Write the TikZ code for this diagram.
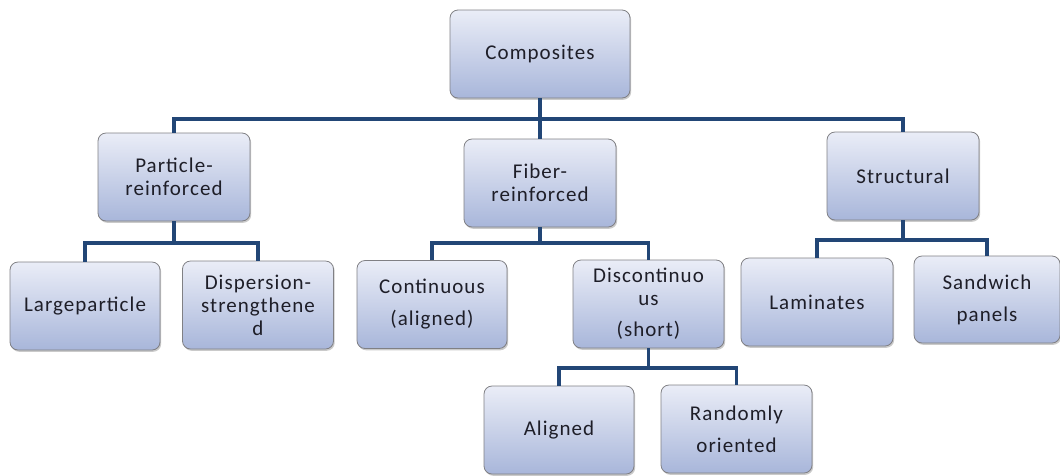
\documentclass[tikz,border=0pt]{standalone}
\usepackage{fontspec}
\setmainfont{Carlito}[LetterSpace=5]
\usetikzlibrary{shadows}
\definecolor{boxtop}{RGB}{234,237,247}
\definecolor{boxbot}{RGB}{168,182,218}
\definecolor{boxline}{RGB}{128,128,132}
\definecolor{conncol}{RGB}{34,70,118}
\definecolor{txt}{RGB}{30,30,40}
\tikzset{
  box/.style={draw=boxline, line width=0.8pt, rounded corners=8pt,
    top color=boxtop, bottom color=boxbot,
    minimum width=152pt, minimum height=88pt, align=center, inner sep=2pt,
    text=txt, font=\fontsize{21}{23}\selectfont,
    drop shadow={opacity=0.35, shadow xshift=1.2pt, shadow yshift=-1.8pt, fill=black!60}},
  conn/.style={draw=conncol, line width=3.6pt}
}
\begin{document}
\begin{tikzpicture}[x=1pt,y=-1pt]
\useasboundingbox (0,0) rectangle (1060,475);
\node[box, minimum width=180pt] (comp) at (540,54) {Composites};
\node[box] (part) at (174,177) {Particle-\\reinforced};
\node[box] (fib) at (540,183) {Fiber-\\reinforced};
\node[box] (str) at (903,176) {Structural};
\node[box, minimum width=150pt] (lp) at (85,306) {Largeparticle};
\node[box, minimum width=151pt] (ds) at (258,305) {Dispersion-\\strengthene\\d};
\node[box, minimum width=150pt] (cont) at (432,304.5) {Continuous\\[9pt](aligned)};
\node[box, minimum width=151pt] (disc) at (648.5,304) {Discontinuo\\us\\[8pt](short)};
\node[box] (lam) at (817,302) {Laminates};
\node[box, minimum width=146pt, minimum height=87pt] (sand) at (987,299.5) {Sandwich\\[9pt]panels};
\node[box, minimum width=150pt] (al) at (559,430) {Aligned};
\node[box, minimum width=151pt] (rnd) at (736.5,429) {Randomly\\[9pt]oriented};
\coordinate (b1) at (540,119);
\coordinate (b2) at (174,243);
\coordinate (b3) at (540,243);
\coordinate (b4) at (903,240);
\coordinate (b5) at (648.5,368);
\draw[conn] (comp.south) -- (fib.north);
\draw[conn] (part.north) |- (b1) -| (str.north);
\draw[conn] (part.south) -- (b2);
\draw[conn] (lp.north) |- (b2) -| (ds.north);
\draw[conn] (fib.south) -- (b3);
\draw[conn] (cont.north) |- (b3) -| (disc.north);
\draw[conn] (str.south) -- (b4);
\draw[conn] (lam.north) |- (b4) -| (sand.north);
\draw[conn] (disc.south) -- (b5);
\draw[conn] (al.north) |- (b5) -| (rnd.north);
\end{tikzpicture}
\end{document}
